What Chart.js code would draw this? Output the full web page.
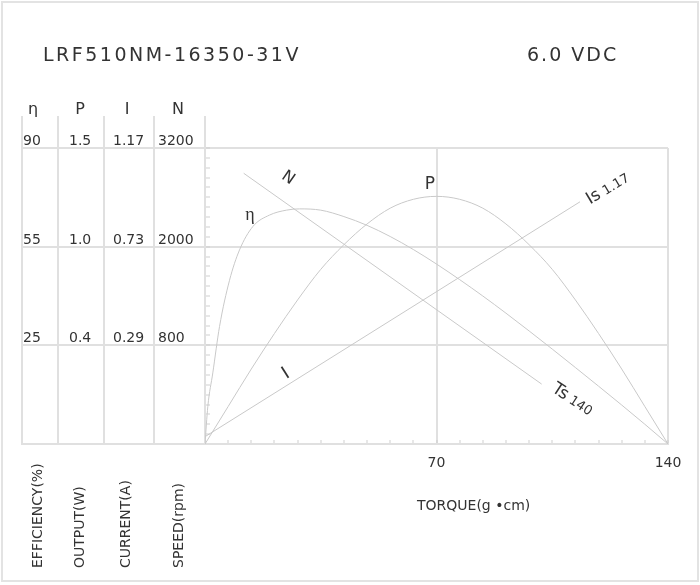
<!DOCTYPE html>
<html>
<head>
<meta charset="utf-8">
<script src="https://cdn.jsdelivr.net/npm/chart.js@4.4.1/dist/chart.umd.min.js"></script>
<style>
  html, body { margin: 0; padding: 0; background: #fff; }
  #wrap { width: 700px; height: 585px; }
</style>
</head>
<body>
<div id="wrap"><canvas id="motorChart" width="700" height="585"></canvas></div>
<script>
// ---- data ----
// y values are in grid divisions: 10 per band, 30 = top line
const torqueTicks = [70, 140];

const powerTorque = [0, 7, 14, 21, 28, 35, 42, 49, 56, 63, 70, 77, 84, 91, 98, 105, 112, 119, 126, 133, 140];
const powerDiv = [0, 3.8, 7.6, 11.2, 14.6, 17.7, 20.2, 22.3, 23.9, 24.8, 25.1, 24.8, 23.9, 22.3, 20.2, 17.7, 14.6, 11.2, 7.6, 3.8, 0];

const effTorque = [0, 0.85, 2.36, 4.39, 7.42, 10.44, 14.47, 19.5, 24.6, 28.6, 35, 42, 49, 56, 63, 70, 77, 84, 91, 98, 105, 112, 119, 126, 133, 140];
const effDiv = [0, 3.8, 7.2, 11.9, 16.6, 19.67, 22.04, 23.2, 23.7, 23.83, 23.7, 23.05, 22.16, 21.03, 19.71, 18.24, 16.66, 15.0, 13.26, 11.46, 9.62, 7.75, 5.86, 3.95, 2.0, 0];

const currentTorque = [0, 113.4];
const currentDiv = [0.74, 24.55];

const speedTorque = [11.7, 101.8];
const speedDiv = [27.44, 6.07];

// left-hand table
const headers = ['η', 'P', 'I', 'N'];
const gridDivs = [10, 20, 30];
const effLabels = ['25', '55', '90'];
const powerLabels = ['0.4', '1.0', '1.5'];
const currentLabels = ['0.29', '0.73', '1.17'];
const speedLabels = ['800', '2000', '3200'];
const axisNames = ['EFFICIENCY(%)', 'OUTPUT(W)', 'CURRENT(A)', 'SPEED(rpm)'];

const GRID = '#e0e0e0';
const CURVE = '#c9c9c9';
const TEXT = '#333';
const FONT = '"DejaVu Sans", sans-serif';

function points(xs, ys) {
  return xs.map((x, i) => ({ x: x, y: ys[i] }));
}

function curve(label, xs, ys, smooth) {
  return {
    label: label,
    data: points(xs, ys),
    borderColor: CURVE,
    borderWidth: 1,
    pointRadius: 0,
    fill: false,
    cubicInterpolationMode: smooth ? 'monotone' : 'default',
    tension: 0
  };
}

// text along a line: parts = [[text, font], ...]
function drawAlong(ctx, x, y, angle, parts) {
  ctx.save();
  ctx.translate(x, y);
  ctx.rotate(angle);
  ctx.textAlign = 'left';
  ctx.textBaseline = 'alphabetic';
  let cx = 0;
  parts.forEach(([text, font]) => {
    ctx.font = font;
    ctx.fillText(text, cx, 0);
    cx += ctx.measureText(text).width;
  });
  ctx.restore();
}

function drawAt(ctx, text, x, y, angle, font) {
  ctx.save();
  ctx.translate(x, y);
  ctx.rotate(angle);
  ctx.font = font;
  ctx.textAlign = 'center';
  ctx.textBaseline = 'middle';
  ctx.fillText(text, 0, 0);
  ctx.restore();
}

const sheetPlugin = {
  id: 'sheet',
  beforeDatasetsDraw(chart) {
    const ctx = chart.ctx;
    const y = chart.scales.y;
    const left = chart.chartArea.left;
    const bottom = chart.chartArea.bottom;
    ctx.save();
    // outer frame
    ctx.strokeStyle = '#e3e3e3';
    ctx.lineWidth = 2;
    ctx.strokeRect(2, 2, 696, 579);
    // table grid
    ctx.strokeStyle = GRID;
    ctx.lineWidth = 2;
    [0].concat(gridDivs).forEach(v => {
      const py = Math.round(y.getPixelForValue(v));
      ctx.beginPath();
      ctx.moveTo(21, py);
      ctx.lineTo(left, py);
      ctx.stroke();
    });
    [22, 58, 104, 154, left].forEach((px, i) => {
      ctx.beginPath();
      ctx.moveTo(px, 116);
      ctx.lineTo(px, i < 4 ? bottom : chart.chartArea.top);
      ctx.stroke();
    });
    ctx.restore();
  },
  afterDraw(chart) {
    const ctx = chart.ctx;
    const y = chart.scales.y;
    ctx.save();
    ctx.fillStyle = TEXT;
    ctx.textBaseline = 'alphabetic';

    // title line
    ctx.font = '19px ' + FONT;
    ctx.textAlign = 'left';
    ctx.letterSpacing = '2.5px';
    ctx.fillText('LRF510NM-16350-31V', 43, 61);
    ctx.letterSpacing = '2px';
    ctx.fillText('6.0 VDC', 527, 61);
    ctx.letterSpacing = '0px';

    // table header
    ctx.font = '16px ' + FONT;
    ctx.textAlign = 'center';
    [33, 80, 127, 178].forEach((px, i) => ctx.fillText(headers[i], px, 114));

    // table values sit just above each grid line
    ctx.font = '14px ' + FONT;
    ctx.textAlign = 'left';
    const cols = [[effLabels, 23], [powerLabels, 69], [currentLabels, 113], [speedLabels, 158]];
    gridDivs.forEach((v, r) => {
      const py = y.getPixelForValue(v) - 3;
      cols.forEach(([labels, px]) => ctx.fillText(labels[r], px, py));
    });

    // vertical axis names
    [38, 80, 126, 179].forEach((px, i) => {
      ctx.save();
      ctx.translate(px, 568);
      ctx.rotate(-Math.PI / 2);
      ctx.textBaseline = 'middle';
      ctx.fillText(axisNames[i], 0, 0);
      ctx.restore();
    });

    ctx.fillText('TORQUE(g \u2022cm)', 417, 510);

    // curve labels
    drawAt(ctx, 'N', 288, 178, 0.61, '16px ' + FONT);
    drawAt(ctx, 'P', 430, 185, 0, '17px ' + FONT);
    drawAt(ctx, 'η', 250, 215, 0, '18px "Liberation Serif", serif');
    drawAt(ctx, 'I', 286, 374, -0.56, '18px ' + FONT);
    drawAlong(ctx, 590, 204.5, -0.54, [['Is', '17px ' + FONT], [' 1.17', '13px ' + FONT]]);
    drawAlong(ctx, 551, 391, 0.58, [['Ts', '17px ' + FONT], [' 140', '13px ' + FONT]]);
    ctx.restore();
  }
};

new Chart(document.getElementById('motorChart'), {
  type: 'line',
  data: {
    datasets: [
      curve('η', effTorque, effDiv, true),
      curve('P', powerTorque, powerDiv, true),
      curve('I', currentTorque, currentDiv, false),
      curve('N', speedTorque, speedDiv, false)
    ]
  },
  options: {
    responsive: false,
    animation: false,
    events: [],
    layout: { padding: { left: 0, right: 32, top: 148, bottom: 0 } },
    plugins: { legend: { display: false }, tooltip: { enabled: false }, title: { display: false } },
    scales: {
      x: {
        type: 'linear',
        min: 0,
        max: 140,
        afterFit: s => { s.height = 141; },
        border: { display: true, color: GRID, width: 2 },
        grid: {
          color: c => (c.tick && c.tick.value > 0 && c.tick.value % 70 === 0) ? GRID : 'rgba(0,0,0,0)',
          lineWidth: 2,
          tickColor: '#cfcfcf',
          tickWidth: 1,
          tickLength: -4
        },
        ticks: {
          stepSize: 7,
          autoSkip: false,
          maxRotation: 0,
          padding: 15,
          color: TEXT,
          font: { family: 'DejaVu Sans', size: 14 },
          callback: v => torqueTicks.includes(v) ? String(v) : ''
        }
      },
      y: {
        type: 'linear',
        min: 0,
        max: 30,
        afterFit: s => { s.width = 205; },
        border: { display: true, color: GRID, width: 2 },
        grid: {
          color: c => (c.tick && c.tick.value % 10 === 0) ? GRID : 'rgba(0,0,0,0)',
          lineWidth: 2,
          tickColor: '#cfcfcf',
          tickWidth: 1,
          tickLength: -5
        },
        ticks: { stepSize: 1, display: false }
      }
    }
  },
  plugins: [sheetPlugin]
});
</script>
</body>
</html>
